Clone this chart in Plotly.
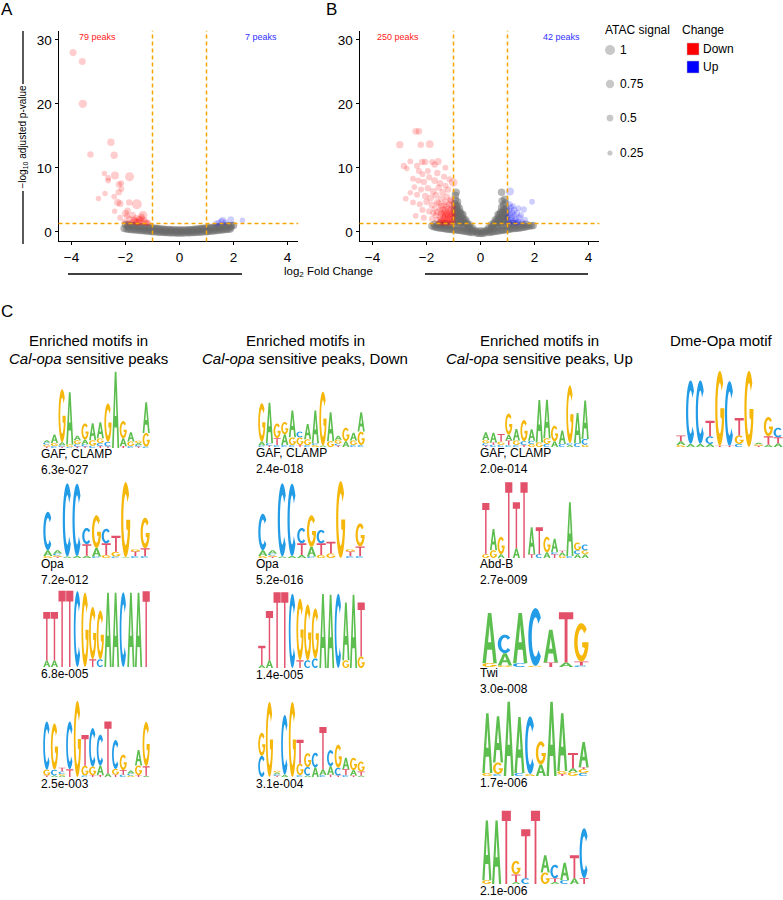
import math
import plotly.graph_objects as go

W, H = 783, 900
FONT = "Liberation Sans, Arial, Helvetica, sans-serif"

# ---------------- Volcano data: (log2 fold change, -log10 adj p, ATAC signal) ----------------
a_down = [(-3.94, 28.0, .55), (-3.6, 26.6, .55), (-3.58, 20.0, .75), (-3.3, 12.1, .45), (-2.54, 14.0, .6),
          (-2.42, 11.96, .6), (-2.78, 9.1, .3), (-2.64, 8.4, .4), (-2.64, 8.0, .35), (-2.39, 8.8, .7),
          (-1.85, 8.6, .85), (-2.24, 7.4, .45), (-2.25, 6.2, .45), (-2.76, 6.0, .3), (-2.42, 5.5, .35),
          (-3.0, 5.2, .3), (-2.29, 4.6, .55), (-2.2, 4.4, .5), (-1.86, 4.6, .45), (-1.58, 4.3, 1.0),
          (-2.4, 3.2, .3), (-1.92, 3.3, .45), (-2.0, 2.9, .55), (-1.35, 2.6, .8), (-1.74, 2.6, .5),
          (-2.2, 2.2, .35), (-1.85, 2.0, .5), (-1.7, 1.9, .45), (-1.6, 2.2, .4), (-1.5, 2.0, .5),
          (-1.45, 1.7, .5), (-1.4, 2.1, .4), (-1.3, 1.8, .45), (-1.25, 1.5, .45), (-1.6, 1.6, .5),
          (-1.75, 1.5, .4), (-1.9, 1.4, .35), (-1.55, 1.4, .5), (-1.35, 1.4, .4), (-1.2, 1.4, .4),
          (-1.5, 1.55, .5), (-1.65, 1.75, .45), (-2.05, 1.6, .3), (-1.4, 2.4, .45), (-1.95, 2.45, .4),
          (-1.15, 1.35, .35), (-2.16, 7.6, .4), (-2.15, 6.7, .35)]
a_up = [(1.45, 1.4, .4), (1.55, 1.6, .5), (1.6, 1.75, .55), (1.35, 1.3, .4), (1.7, 1.45, .4),
        (1.9, 1.9, .5), (2.33, 1.8, .3)]
a_ns = [(-2.05, 0.5), (-1.95, 0.45), (-1.88, 0.42), (-1.8, 0.38), (-1.72, 0.33), (-1.63, 0.3), (-1.55, 0.27),
        (-1.47, 0.22), (-1.38, 0.2), (-1.3, 0.15), (-1.22, 0.12), (-1.13, 0.1), (-1.05, 0.05), (-0.97, 0.03),
        (-0.88, 0.0), (-0.8, -0.02), (-0.72, -0.05), (-0.63, -0.08), (-0.55, -0.1), (-0.47, -0.12),
        (-0.38, -0.13), (-0.3, -0.15), (-0.22, -0.16), (-0.13, -0.17), (-0.05, -0.18), (0.04, -0.18),
        (0.12, -0.17), (0.21, -0.16), (0.3, -0.15), (0.38, -0.13), (0.47, -0.12), (0.55, -0.1), (0.63, -0.07),
        (0.72, -0.05), (0.8, -0.02), (0.88, 0.0), (0.97, 0.03), (1.05, 0.06), (1.13, 0.1), (1.22, 0.13),
        (1.3, 0.17), (1.38, 0.2), (1.47, 0.24), (1.55, 0.28), (1.63, 0.31), (1.72, 0.35), (1.8, 0.4), (1.88, 0.45),
        (-2.0, 1.15), (-1.91, 1.08), (-1.83, 1.02), (-1.75, 0.97), (-1.66, 0.93), (-1.58, 0.88), (-1.5, 0.84),
        (-1.41, 0.8), (-1.33, 0.75), (-1.25, 0.72), (-1.16, 0.68), (-1.08, 0.64), (-1.0, 0.6), (-0.91, 0.55),
        (-0.83, 0.52), (-0.75, 0.48), (-0.66, 0.45), (-0.58, 0.42), (-0.5, 0.38), (-0.41, 0.35), (-0.33, 0.33),
        (-0.25, 0.31), (-0.16, 0.3), (-0.08, 0.29), (0.0, 0.28), (0.08, 0.28), (0.16, 0.29), (0.25, 0.3),
        (0.33, 0.32), (0.41, 0.34), (0.5, 0.37), (0.58, 0.4), (0.66, 0.43), (0.75, 0.47), (0.83, 0.5),
        (0.91, 0.54), (1.0, 0.58), (1.08, 0.62), (1.16, 0.66), (1.25, 0.7), (1.33, 0.74), (1.41, 0.78),
        (1.5, 0.82), (1.58, 0.86), (1.66, 0.9), (1.75, 0.93), (1.83, 0.96), (1.92, 0.98), (2.0, 1.0),
        (-1.9, 0.75), (-1.7, 0.62), (-1.5, 0.55), (-1.3, 0.45), (-1.1, 0.36), (-0.9, 0.28), (-0.7, 0.2),
        (-0.5, 0.12), (-0.3, 0.07), (-0.1, 0.05), (0.1, 0.05), (0.3, 0.08), (0.5, 0.13), (0.7, 0.2),
        (0.9, 0.27), (1.1, 0.35), (1.3, 0.45), (1.5, 0.53), (1.7, 0.63), (1.9, 0.72)]

b_down = [(-2.4, 15.7, .5), (-2.28, 15.7, .5), (-2.99, 13.6, .6), (-2.21, 13.6, .45), (-1.88, 13.7, .65),
          (-2.84, 10.3, .45), (-2.73, 9.9, .3), (-2.77, 5.2, .35), (-2.16, 10.9, .45), (-2.05, 10.9, .45),
          (-1.57, 11.0, .55), (-2.35, 10.3, .4), (-2.28, 9.5, .4), (-1.01, 7.7, .8), (-1.79, 10.9, .4),
          (-2.5, 8.3, .35), (-2.3, 8.0, .4), (-2.1, 7.8, .45), (-1.9, 8.5, .4), (-1.7, 8.0, .5), (-1.5, 7.6, .45),
          (-1.3, 7.2, .4), (-2.45, 7.0, .35), (-2.2, 6.6, .4), (-1.95, 6.8, .45), (-1.75, 6.3, .5),
          (-1.55, 6.9, .45), (-1.4, 6.2, .5), (-1.2, 6.6, .45), (-2.6, 6.1, .3), (-2.35, 5.8, .4),
          (-2.05, 5.6, .45), (-1.85, 5.3, .5), (-1.65, 5.7, .5), (-1.45, 5.2, .5), (-1.25, 5.5, .45),
          (-1.1, 5.0, .5), (-2.5, 4.6, .35), (-2.25, 4.3, .4), (-2.0, 4.7, .45), (-1.8, 4.2, .5), (-1.6, 4.6, .5),
          (-2.15, 3.4, .4), (-1.9, 3.2, .45), (-2.4, 2.5, .35), (-2.1, 2.2, .4), (-1.95, 9.5, .4),
          (-1.6, 9.2, .45), (-2.15, 9.0, .35), (-1.35, 8.6, .4), (-1.15, 8.2, .4), (-2.6, 11.0, .35),
          (-1.7, 10.5, .45), (-1.3, 10.0, .4),
          (-1.5, 1.5, .5), (-1.4, 1.4, .5), (-1.3, 1.5, .55), (-1.2, 1.4, .5), (-1.1, 1.5, .55), (-1.03, 1.6, .5),
          (-1.45, 1.9, .5), (-1.35, 2.0, .55), (-1.25, 1.8, .5), (-1.15, 1.9, .5), (-1.05, 2.0, .55),
          (-1.5, 2.4, .5), (-1.4, 2.5, .5), (-1.3, 2.3, .55), (-1.2, 2.5, .5), (-1.1, 2.4, .55), (-1.02, 2.6, .5),
          (-1.45, 2.9, .5), (-1.35, 3.0, .5), (-1.25, 2.8, .55), (-1.15, 3.1, .5), (-1.05, 2.9, .5),
          (-1.5, 3.4, .45), (-1.4, 3.5, .5), (-1.3, 3.3, .5), (-1.2, 3.6, .5), (-1.1, 3.4, .5), (-1.02, 3.7, .45),
          (-1.45, 4.0, .45), (-1.35, 4.2, .45), (-1.25, 3.9, .5), (-1.15, 4.3, .45), (-1.05, 4.1, .5),
          (-1.6, 1.8, .45), (-1.65, 2.6, .45), (-1.6, 3.1, .45), (-1.7, 3.6, .4), (-1.55, 4.4, .45),
          (-1.3, 4.7, .45), (-1.1, 4.8, .45), (-1.8, 2.0, .4), (-1.75, 2.9, .4), (-1.4, 1.7, .5),
          (-1.2, 2.1, .5), (-1.1, 2.8, .5), (-1.3, 2.7, .5)]
b_up = [(1.09, 6.3, .7), (1.91, 4.7, .35), (1.6, 3.5, .45), (1.05, 1.5, .5), (1.1, 1.8, .5), (1.15, 2.2, .55),
        (1.2, 1.6, .5), (1.25, 2.5, .5), (1.1, 2.7, .5), (1.3, 2.0, .5), (1.18, 3.0, .45), (1.05, 3.3, .5),
        (1.35, 2.9, .45), (1.4, 1.6, .5), (1.45, 2.2, .45), (1.12, 3.8, .45), (1.25, 3.4, .45), (1.5, 2.6, .4),
        (1.55, 1.5, .4), (1.02, 2.3, .5), (1.3, 1.4, .45), (1.08, 4.3, .4), (1.2, 4.0, .4), (1.4, 3.7, .35),
        (1.65, 1.9, .35), (1.35, 1.5, .4)]
b_ns = [(-0.3, -0.1), (-0.15, -0.2), (0.0, -0.25), (0.15, -0.2), (0.3, -0.1), (-0.08, -0.22), (0.08, -0.22),
        (-1.8, 0.9), (-1.65, 0.7), (-1.5, 0.6), (-1.35, 0.5), (-1.2, 0.4), (-1.05, 0.35), (-0.9, 0.3),
        (-0.75, 0.2), (-0.6, 0.1), (-0.45, 0.0), (0.45, 0.0), (0.6, 0.1), (0.75, 0.2), (0.9, 0.3), (1.05, 0.4),
        (1.2, 0.5), (1.35, 0.55), (1.5, 0.65), (1.65, 0.75), (1.8, 0.9), (1.95, 1.0),
        (-1.72, 0.8), (-1.58, 0.65), (-1.43, 0.55), (-1.28, 0.45), (-1.12, 0.38), (-0.98, 0.32), (-0.83, 0.25),
        (-0.68, 0.15), (-0.52, 0.05), (-0.38, -0.05), (0.38, -0.05), (0.52, 0.05), (0.68, 0.15), (0.83, 0.25),
        (0.98, 0.35), (1.12, 0.45), (1.28, 0.52), (1.43, 0.6), (1.58, 0.7), (1.72, 0.82), (1.88, 0.95),
        (-1.7, 1.2), (-1.55, 1.1), (-1.4, 1.0), (-1.25, 0.95), (-1.1, 0.9), (-0.95, 1.0), (-0.8, 0.9),
        (-0.65, 0.7), (-0.5, 0.5), (-0.35, 0.35), (-0.2, 0.2), (0.0, 0.15), (0.2, 0.2), (0.35, 0.35),
        (0.5, 0.55), (0.65, 0.75), (0.8, 0.9), (0.95, 1.0), (1.1, 0.9), (1.25, 1.0), (1.4, 1.05), (1.55, 1.1),
        (1.7, 1.2), (-0.1, 0.05), (0.1, 0.05), (-0.25, 0.1), (0.25, 0.1),
        (-0.95, 1.6), (-0.85, 1.5), (-0.75, 1.3), (-0.6, 1.1), (-0.45, 0.9), (-0.3, 0.6),
        (-0.9, 1.95), (-0.8, 1.7), (-0.7, 1.45), (-0.55, 1.25), (-0.42, 0.75),
        (-0.95, 2.3), (-0.85, 2.1), (-0.75, 1.9), (-0.65, 1.6), (-0.5, 1.4), (-0.4, 1.1),
        (-0.9, 2.65), (-0.8, 2.35), (-0.7, 2.05), (-0.6, 1.75),
        (-0.95, 3.0), (-0.85, 2.8), (-0.75, 2.5), (-0.65, 2.2), (-0.55, 1.9),
        (-0.9, 3.35), (-0.8, 3.0), (-0.7, 2.75),
        (-0.95, 3.7), (-0.85, 3.5), (-0.75, 3.1), (-0.65, 2.7),
        (-0.95, 4.4), (-0.85, 4.1), (-0.78, 3.7), (-0.9, 4.0), (-0.93, 5.0), (-0.85, 4.7), (-0.93, 5.7), (-0.9, 6.2),
        (0.3, 0.6), (0.45, 0.9), (0.6, 1.1), (0.75, 1.3), (0.85, 1.5), (0.95, 1.6),
        (0.42, 0.75), (0.55, 1.25), (0.7, 1.45), (0.8, 1.7), (0.9, 1.95),
        (0.4, 1.1), (0.5, 1.4), (0.65, 1.6), (0.75, 1.9), (0.85, 2.1), (0.95, 2.3),
        (0.6, 1.75), (0.7, 2.05), (0.8, 2.35), (0.9, 2.65),
        (0.55, 1.9), (0.65, 2.2), (0.75, 2.5), (0.85, 2.8), (0.95, 3.0),
        (0.7, 2.75), (0.8, 3.0), (0.9, 3.35),
        (0.65, 2.7), (0.75, 3.1), (0.85, 3.5), (0.95, 3.6),
        (0.78, 3.8), (0.85, 4.2), (0.92, 4.5), (0.8, 4.8), (0.9, 5.1), (0.78, 6.2),
        (1.05, 1.2), (1.2, 1.3), (-1.5, 1.3), (-1.3, 1.25), (-1.1, 1.2)]

a_counts = ["79 peaks", "7 peaks"]
b_counts = ["250 peaks", "42 peaks"]
x_ticks = [-4, -2, 0, 2, 4]
y_ticks = [0, 10, 20, 30]
fc_cut = 1.0
p_cut = 1.3

atac_levels = [1, 0.75, 0.5, 0.25]
atac_labels = ["1", "0.75", "0.5", "0.25"]
change_labels = ["Down", "Up"]

# ---------------- Motif logos: columns, letters stacked bottom->top with height in bits ----------------
c1_gaf = ["T.04 G.05 C.05 A.06", "C.05 G.08 A.22", "T.03 C.04 A.08 G1.38", "C.03 G.06 A1.36",
          "T.04 C.06 G.1 A.12", "T.04 C.06 A.12 G.42", "C.06 G.14 A.44", "T.05 C.08 G.12 A.42",
          "T.04 C.12 G1.0", "A1.98", "T.05 A.2 G.45", "C.05 G.12 A.24", "T.04 C.04 A.05 G.06", "C.04 G.35 A.8"]
c1_opa = ["G.05 A.15 C1.0", "T.03 G.04 C.05 A.08", "A.04 C1.9", "A.05 C1.88", "A.06 T.3 C.42",
          "C.04 A.22 G.85", "G.08 T.3 C.38", "C.04 G.12 T.42", "A.02 G1.95", "C.05 T.12 G.06", "C.05 T.2 G.8"]
c1_m3 = ["A.17 T1.26", "A.17 T1.26", "T1.98", "T1.98", "C1.97", "G1.93", "T.2 G1.36", "C.2 G1.27",
         "A1.93", "A1.93", "C1.94", "A1.93", "A1.93", "T1.97"]
c1_m4 = ["T.04 G.15 C1.25", "A.04 C.15 G1.2", "A.04 G.04 C.06 T.1", "T.2 C1.24", "G1.98", "C.04 G.25 T.8",
         "T.05 G.22 C1.0", "T.05 A.25 C.8", "A.1 T1.34", "T.06 G.15 C.75", "C.06 T.12 G.4", "G.04 C.05 A.08",
         "T.05 G.25 A.4", "A.03 T.25 G1.15"]
c2_gaf = ["C.04 A.1 G1.0", "T.04 C.06 A1.05", "C.05 T.18 G.38", "C.05 A.28 G.32", "C.05 G.2 A.7",
          "T.05 G.2 C.15", "C.05 G.15 A.4", "G.05 C.05 A.85", "A.04 G1.4", "G.15 A.75", "T.04 C.05 G.1 A.1",
          "A.15 G.35", "C.05 G.12 A.2", "C.05 G.35 A.5"]
c2_opa = ["G.05 A.15 C.95", "T.03 G.04 C.05 A.08", "A.04 C1.9", "A.05 C1.88", "A.08 T.3 C.4",
          "C.04 A.25 G.82", "G.08 T.3 C.35", "G.12 T.3", "G2.0", "C.05 T.12 G.06", "C.05 T.25 G.6"]
c2_m3 = ["A.08 T.5", "A.2 T1.28", "T1.97", "T1.97", "C1.93", "T.2 G1.6", "C.2 G1.45", "C.25 G1.3",
         "A1.92", "A1.9", "C1.93", "G.2 A1.5", "A1.9", "G.3 T1.4"]
c2_m4 = ["C.55 G.6", "G1.95", "T.03 C.04 A.05 G.04", "A.06 C1.55", "G1.95", "C.05 G.3 T.62",
         "A.04 C.22 G.36", "A.25 C.38", "C.05 A.15 T1.1", "T.06 A.22 C.42", "T.04 C.2 G.6", "C.05 T.15 A.3",
         "T.04 A.14 G.32", "A.04 T.1 G.26"]
c3_gaf = ["T.04 C.06 G.08 A.2", "C.06 T.06 A.25", "C.06 G.08 T.2", "C.05 T.12 A.15 G.55", "C.05 G.12 A.3",
          "T.05 C.1 G.55", "G.08 C.08 A.3", "G.12 A1.1", "C.08 G.15 A1.0", "A.15 G.4", "C.08 A.35",
          "A.05 C.05 G1.5", "C.1 A.78", "G.06 C.15 A1.0"]
c3_abdb = ["G.1 T1.33", "G.2 A.55", "A.1 G.45", "T1.97", "A.25 T1.2", "T1.97", "T.1 A.7", "C.1 T.7",
           "A.15 G.4", "T.1 C.05 A.35", "G.06 A.08 T.05", "C.05 A1.4", "A.1 C.1 G.2", "A.1 G.1 C.15"]
c3_twi = ["G.1 A1.3", "G.04 A.32 C.48", "C.1 A1.3", "G.03 C1.5", "T.12 A.85", "A.12 T1.3", "C.04 T.1 G1.0"]
c3_m4 = ["G.08 A1.55", "C.05 G.3 A1.2", "A1.93", "C.08 A1.45", "G.05 C1.5", "A.3 G.6", "A1.93",
         "T.05 G.08 A1.5", "G.1 A.1 T.4", "C.08 G.1 T.05 A.65"]
c3_m5 = ["G.1 A1.55", "A1.65", "T1.9", "A.05 T.2 G.35", "C.15 T1.27", "T1.9", "G.3 A.45", "A.05 T.1 C.35",
         "C.1 A.45", "A.15 T.6", "T.15 C1.3"]
dme_opa = ["G.05 A.1 T.15", "A.08 C1.65", "A.08 C1.65", "A.08 C.2 T.4", "T.03 G1.95", "T.03 C1.68",
           "C.08 G.22 T.45", "G1.98", "T.03 G.04 A.04", "A.06 T.22 G.5", "A.1 T.15 C.25"]

logo_motifs = [c1_gaf, c1_opa, c1_m3, c1_m4, c2_gaf, c2_opa, c2_m3, c2_m4,
               c3_gaf, c3_abdb, c3_twi, c3_m4, c3_m5, dme_opa]
logo_names = ["GAF, CLAMP", "Opa", "", "", "GAF, CLAMP", "Opa", "", "",
              "GAF, CLAMP", "Abd-B", "Twi", "", "", ""]
logo_pvals = ["6.3e-027", "7.2e-012", "6.8e-005", "2.5e-003", "2.4e-018", "5.2e-016", "1.4e-005", "3.1e-004",
              "2.0e-014", "2.7e-009", "3.0e-008", "1.7e-006", "2.1e-006", ""]
col_titles = [("Enriched motifs in", "<i>Cal-opa</i> sensitive peaks"),
              ("Enriched motifs in", "<i>Cal-opa</i> sensitive peaks, Down"),
              ("Enriched motifs in", "<i>Cal-opa</i> sensitive peaks, Up"),
              ("Dme-Opa motif", "")]

# ---------------- layout (pixel positions) ----------------
logo_col = [0, 0, 0, 0, 1, 1, 1, 1, 2, 2, 2, 2, 2, 3]
logo_bottom = [448, 558, 667, 777, 447, 558, 668, 777, 447, 558, 667, 776, 884, 447]
col_left = [43, 258, 482, 676]
col_center = [88, 305, 539, 721]
LOGO_W, LOGO_H = 107, 77

LETTER_COLORS = {'A': '#5CBE4E', 'C': '#229CE6', 'G': '#F5B70A', 'T': '#E2506A'}


def X(px):
    return min(1.0, max(0.0, px / W))


def Y(py):
    return min(1.0, max(0.0, 1 - py / H))


def arc(cx, cy, rx, ry, a0, a1, n):
    return [(cx + rx * math.cos(math.radians(a0 + (a1 - a0) * i / n)),
             cy + ry * math.sin(math.radians(a0 + (a1 - a0) * i / n))) for i in range(n + 1)]


GLYPH = {
    'A': [[(0, 0), (0.38, 1), (0.62, 1), (1, 0), (0.76, 0), (0.665, 0.27), (0.335, 0.27), (0.24, 0)],
          [(0.39, 0.42), (0.61, 0.42), (0.5, 0.76)]],
    'C': [arc(0.5, 0.5, 0.5, 0.5, 42, 318, 28) + arc(0.5, 0.5, 0.26, 0.34, 318, 42, 28)],
    'G': [arc(0.5, 0.5, 0.5, 0.5, 42, 360, 30) + [(0.56, 0.5), (0.56, 0.38)]
          + arc(0.5, 0.5, 0.26, 0.34, 335, 42, 28)],
    'T': [[(0, 1), (1, 1), (1, 0.86), (0.6, 0.86), (0.6, 0), (0.4, 0), (0.4, 0.86), (0, 0.86)]],
}


def letter_path(letter, x0, x1, y0, y1):
    parts = []
    for poly in GLYPH[letter]:
        pts = ["%.4f,%.4f" % (x0 + (x1 - x0) * u, y0 + (y1 - y0) * v) for u, v in poly]
        parts.append("M" + "L".join(pts) + "Z")
    return "".join(parts)


fig = go.Figure()
shapes = []
annotations = []


def note(px_, py_, text, size=12, color='black', xanchor='center', **kw):
    annotations.append(dict(xref='paper', yref='paper', x=X(px_), y=Y(py_), text=text, showarrow=False,
                            xanchor=xanchor, yanchor='middle',
                            font=dict(family=FONT, size=size, color=color), **kw))


def msize(s):
    return 3.5 + 6.5 * s


def add_volcano(ns, down, up, xa, ya, gray_size, gray_alpha):
    fig.add_trace(go.Scatter(x=[p[0] for p in ns], y=[p[1] for p in ns], mode='markers',
                             marker=dict(size=gray_size, color='rgba(105,105,105,%.2f)' % gray_alpha,
                                         line=dict(width=0)),
                             xaxis=xa, yaxis=ya, hoverinfo='skip', showlegend=False))
    fig.add_trace(go.Scatter(x=[p[0] for p in down], y=[p[1] for p in down], mode='markers',
                             marker=dict(size=[msize(p[2]) for p in down], color='rgba(255,0,0,0.28)',
                                         line=dict(width=0)),
                             xaxis=xa, yaxis=ya, hoverinfo='skip', showlegend=False))
    fig.add_trace(go.Scatter(x=[p[0] for p in up], y=[p[1] for p in up], mode='markers',
                             marker=dict(size=[msize(p[2]) for p in up], color='rgba(0,0,255,0.27)',
                                         line=dict(width=0)),
                             xaxis=xa, yaxis=ya, hoverinfo='skip', showlegend=False))


add_volcano(a_ns, a_down, a_up, 'x', 'y', 7.5, 0.5)
add_volcano(b_ns, b_down, b_up, 'x2', 'y2', 7.5, 0.48)

axis_common = dict(showline=True, linecolor='black', linewidth=1, ticks='outside', ticklen=3,
                   tickwidth=1, tickcolor='black', showgrid=False, zeroline=False,
                   tickfont=dict(family=FONT, size=13.5, color='black'), fixedrange=True)
XR = [-4.4815, 4.4]
YR = [-1.5, 31.4]
dom_y = [Y(241.42), Y(30.86)]
tick_text = [str(v).replace('-', '\u2212') for v in x_ticks]
layout_axes = {
    'xaxis': dict(domain=[X(58.5), X(298.3)], range=XR, anchor='y', tickvals=x_ticks, ticktext=tick_text,
                  **axis_common),
    'yaxis': dict(domain=dom_y, range=YR, anchor='x', tickvals=y_ticks, **axis_common),
    'xaxis2': dict(domain=[X(359.5), X(599.3)], range=XR, anchor='y2', tickvals=x_ticks, ticktext=tick_text,
                   **axis_common),
    'yaxis2': dict(domain=dom_y, range=YR, anchor='x2', tickvals=y_ticks, **axis_common),
}

# threshold lines
DASH = dict(color='#F6A400', width=1.5, dash='4px,3px')
for xa, ya in (('x', 'y'), ('x2', 'y2')):
    for v in (-fc_cut, fc_cut):
        shapes.append(dict(type='line', xref=xa, yref=ya + ' domain', x0=v, x1=v, y0=0, y1=1, line=DASH))
    shapes.append(dict(type='line', xref=xa + ' domain', yref=ya, x0=0, x1=1, y0=p_cut, y1=p_cut, line=DASH))

# peak counts
for xa, ya, counts in (('x', 'y', a_counts), ('x2', 'y2', b_counts)):
    annotations.append(dict(xref=xa, yref=ya, x=-3.05, y=30.5, text=counts[0], showarrow=False,
                            xanchor='center', yanchor='middle', font=dict(family=FONT, size=9, color='#FF2020')))
    annotations.append(dict(xref=xa, yref=ya, x=3.0, y=30.5, text=counts[1], showarrow=False,
                            xanchor='center', yanchor='middle', font=dict(family=FONT, size=9, color='#3030FF')))

# axis titles with decorative lines
note(23, 136.5, '\u2212log<sub>10</sub> adjusted p-value', size=10, textangle=-90)
note(328, 272, 'log<sub>2</sub> Fold Change', size=11.5)
for (x0, y0, x1, y1) in ((23, 31, 23, 84), (23, 191, 23, 244), (68, 274, 242, 274), (425, 274, 588, 274)):
    shapes.append(dict(type='line', xref='paper', yref='paper', x0=X(x0), y0=Y(y0), x1=X(x1), y1=Y(y1),
                       line=dict(color='black', width=1.3)))

# panel labels
for lab, px_, py_ in (("A", 7, 9), ("B", 331, 9), ("C", 7, 311)):
    note(px_, py_, lab, size=17)

# legends
note(603, 30, 'ATAC signal', xanchor='left')
note(680, 30, 'Change', xanchor='left')
leg_y = [50, 84, 118, 153]
for lvl, lab, ly in zip(atac_levels, atac_labels, leg_y):
    r = msize(lvl) / 2
    shapes.append(dict(type='circle', xref='paper', yref='paper', xsizemode='pixel', ysizemode='pixel',
                       xanchor=X(610), yanchor=Y(ly), x0=-r, x1=r, y0=-r, y1=r,
                       fillcolor='#C8C8C8', line=dict(width=0)))
    note(618, ly, lab, xanchor='left')
for lab, col, ly in zip(change_labels, ['#FF0000', '#0000FF'], [49, 67]):
    shapes.append(dict(type='rect', xref='paper', yref='paper', x0=X(687), x1=X(699), y0=Y(ly - 6),
                       y1=Y(ly + 6), fillcolor=col, line=dict(color='#BBBBBB', width=0.5)))
    note(701, ly, lab, xanchor='left')

# column titles
for (l1, l2), cx in zip(col_titles, col_center):
    note(cx, 340, l1, size=15)
    if l2:
        note(cx, 358, l2, size=15)

# logos
for i, motif in enumerate(logo_motifs):
    k = 3 + i
    left = col_left[logo_col[i]]
    bottom = logo_bottom[i]
    n = len(motif)
    layout_axes['xaxis%d' % k] = dict(domain=[X(left), X(left + LOGO_W)], range=[0.5, n + 0.5],
                                      anchor='y%d' % k, visible=False, fixedrange=True)
    layout_axes['yaxis%d' % k] = dict(domain=[Y(bottom), Y(bottom - LOGO_H)], range=[0, 2],
                                      anchor='x%d' % k, visible=False, fixedrange=True)
    fig.add_trace(go.Scatter(x=[None], y=[None], xaxis='x%d' % k, yaxis='y%d' % k,
                             showlegend=False, hoverinfo='skip'))
    for j, colspec in enumerate(motif):
        pos = j + 1
        base = 0.0
        for tok in colspec.split():
            letter, h = tok[0], float(tok[1:])
            shapes.append(dict(type='path', xref='x%d' % k, yref='y%d' % k,
                               path=letter_path(letter, pos - 0.47, pos + 0.47, base, base + h),
                               fillcolor=LETTER_COLORS[letter], line=dict(width=0), layer='above'))
            base += h
    lx = left - 4
    if logo_names[i]:
        note(lx, bottom + 6, logo_names[i], xanchor='left')
        py_ = bottom + 22
    else:
        py_ = bottom + 7
    if logo_pvals[i]:
        note(lx, py_, logo_pvals[i], xanchor='left')

fig.update_layout(width=W, height=H, margin=dict(l=0, r=0, t=0, b=0), plot_bgcolor='white',
                  paper_bgcolor='white', showlegend=False, shapes=shapes, annotations=annotations,
                  **layout_axes)

fig.write_html("out.html", config={'displayModeBar': False},
               post_script="document.body.style.margin='0px';document.body.style.overflow='hidden';")
